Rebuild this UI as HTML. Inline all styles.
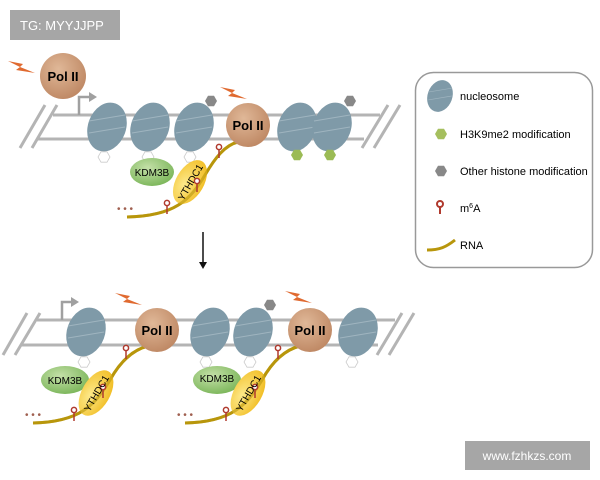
<!DOCTYPE html>
<html><head><meta charset="utf-8"><style>
html,body{margin:0;padding:0;background:#fff;width:600px;height:480px;overflow:hidden}
svg{display:block;font-family:"Liberation Sans",sans-serif}
</style></head><body>
<svg width="600" height="480" viewBox="0 0 600 480" xmlns="http://www.w3.org/2000/svg">
<defs>
<radialGradient id="pol" cx="40%" cy="35%" r="65%"><stop offset="0" stop-color="#e0b898"/><stop offset="1" stop-color="#c08a66"/></radialGradient>
<radialGradient id="kdm" cx="40%" cy="35%" r="65%"><stop offset="0" stop-color="#c4e0a8"/><stop offset="1" stop-color="#7fb85e"/></radialGradient>
<radialGradient id="yth" cx="40%" cy="35%" r="65%"><stop offset="0" stop-color="#fde98a"/><stop offset="1" stop-color="#f2c02a"/></radialGradient>
<g id="nuc"><ellipse rx="19" ry="25" fill="#7f9aa8" transform="rotate(20)"/><path d="M-18,-6 L18,-12 M-18,6 L18,0" stroke="#9fb4bf" stroke-width="1"/></g>
<polygon id="hex" points="6,0 3,5.2 -3,5.2 -6,0 -3,-5.2 3,-5.2"/>
<g id="m6a"><line x1="0" y1="0" x2="0" y2="-9" stroke="#b03a2e" stroke-width="1.5"/><circle cy="-11" r="2.6" fill="#fff" stroke="#b03a2e" stroke-width="1.5"/></g>
<path id="bolt" d="M0,0 L15,3 L12,6 L27,12 L8,9 L12,6 Z" fill="#e06a30"/>
</defs>

<rect x="10" y="10" width="110" height="30" fill="#a6a6a6"/>
<text x="20" y="30" font-size="13" fill="#fff">TG: MYYJJPP</text>

<g stroke="#b4b4b4" stroke-width="3" fill="none">
<line x1="53" y1="115" x2="380" y2="115"/><line x1="37" y1="139" x2="364" y2="139"/>
<line x1="20" y1="148" x2="45" y2="105"/><line x1="32" y1="148" x2="57" y2="105"/>
<line x1="362" y1="148" x2="388" y2="105"/><line x1="374" y1="148" x2="400" y2="105"/>
</g>
<path d="M79,115 V97 H90" stroke="#a0a0a0" stroke-width="2.5" fill="none"/><polygon points="89,92 97,97 89,102" fill="#a0a0a0"/>
<use href="#bolt" x="8" y="61"/>
<circle cx="63" cy="76" r="23" fill="url(#pol)"/><text x="63" y="81" font-size="13" font-weight="bold" text-anchor="middle">Pol II</text>
<use href="#nuc" x="107" y="127"/><use href="#nuc" x="150" y="127"/><use href="#nuc" x="194" y="127"/>
<use href="#nuc" x="297" y="127"/><use href="#nuc" x="332" y="127"/>
<use href="#hex" x="211" y="101" fill="#888"/><use href="#hex" x="350" y="101" fill="#888"/>
<use href="#hex" x="297" y="155" fill="#9bbb55"/><use href="#hex" x="330" y="155" fill="#9bbb55"/>
<g fill="none" stroke="#ccc" stroke-width="0.8"><use href="#hex" x="104" y="157"/><use href="#hex" x="148" y="157"/><use href="#hex" x="190" y="157"/></g>
<use href="#bolt" x="220" y="87"/>
<path d="M127,217 C175,216 190,200 205,175 C215,158 225,145 238,142" stroke="#b8960c" stroke-width="3" fill="none"/>
<ellipse cx="152" cy="172" rx="22" ry="14" fill="url(#kdm)"/><text x="152" y="176" font-size="10" text-anchor="middle">KDM3B</text>
<ellipse cx="190" cy="182" rx="24" ry="14" fill="url(#yth)" transform="rotate(-60 190 182)"/><text x="190" y="186" font-size="10" text-anchor="middle" transform="rotate(-60 190 182)">YTHDC1</text>
<path d="M127,217 C175,216 190,200 205,175 C215,158 225,145 238,142" stroke="#b8960c" stroke-width="3" fill="none" opacity="0.6"/>
<use href="#m6a" x="167" y="214"/><use href="#m6a" x="197" y="192"/><use href="#m6a" x="219" y="158"/>
<text x="117" y="212" font-size="10" fill="#a06050">• • •</text>
<circle cx="248" cy="125" r="22" fill="url(#pol)"/><text x="248" y="130" font-size="13" font-weight="bold" text-anchor="middle">Pol II</text>

<line x1="203" y1="232" x2="203" y2="264" stroke="#111" stroke-width="1.5"/><polygon points="199,262 203,269 207,262" fill="#111"/>

<rect x="415.5" y="72.5" width="177" height="195" rx="18" fill="#fff" stroke="#999" stroke-width="1.5"/>
<g transform="translate(440,96) scale(0.65)"><use href="#nuc"/></g>
<text x="460" y="100" font-size="11">nucleosome</text>
<use href="#hex" x="441" y="134" fill="#a5bf5e"/><text x="460" y="138" font-size="11">H3K9me2 modification</text>
<use href="#hex" x="441" y="171" fill="#888"/><text x="460" y="175" font-size="11">Other histone modification</text>
<g transform="translate(440,214)"><line y1="0" y2="-8" stroke="#b03a2e" stroke-width="2"/><circle cy="-10" r="3" fill="#fff" stroke="#b03a2e" stroke-width="2"/></g>
<text x="460" y="212" font-size="11">m<tspan font-size="7" dy="-4">6</tspan><tspan dy="4">A</tspan></text>
<path d="M427,250 C440,250 446,247 455,240" stroke="#b8960c" stroke-width="3" fill="none"/><text x="460" y="249" font-size="11">RNA</text>

<g stroke="#b4b4b4" stroke-width="3" fill="none">
<line x1="37" y1="320" x2="395" y2="320"/><line x1="20" y1="345" x2="378" y2="345"/>
<line x1="3" y1="355" x2="27" y2="313"/><line x1="15" y1="355" x2="40" y2="313"/>
<line x1="377" y1="355" x2="402" y2="313"/><line x1="389" y1="355" x2="414" y2="313"/>
</g>
<path d="M62,320 V302 H72" stroke="#a0a0a0" stroke-width="2.5" fill="none"/><polygon points="71,297 79,302 71,307" fill="#a0a0a0"/>
<use href="#nuc" x="86" y="332"/><use href="#nuc" x="210" y="332"/><use href="#nuc" x="253" y="332"/><use href="#nuc" x="358" y="332"/>
<use href="#hex" x="270" y="305" fill="#888"/>
<g fill="none" stroke="#ccc" stroke-width="0.8"><use href="#hex" x="84" y="362"/><use href="#hex" x="206" y="362"/><use href="#hex" x="250" y="362"/><use href="#hex" x="352" y="362"/></g>
<use href="#bolt" x="115" y="293"/><use href="#bolt" x="285" y="291"/>
<g id="tx">
<path d="M33,423 C80,422 95,405 110,380 C120,362 132,350 148,346" stroke="#b8960c" stroke-width="3" fill="none"/>
<ellipse cx="65" cy="380" rx="24" ry="14" fill="url(#kdm)"/>
<ellipse cx="96" cy="393" rx="25" ry="14" fill="url(#yth)" transform="rotate(-60 96 393)"/>
<path d="M33,423 C80,422 95,405 110,380 C120,362 132,350 148,346" stroke="#b8960c" stroke-width="3" fill="none" opacity="0.6"/>
<use href="#m6a" x="74" y="421"/><use href="#m6a" x="103" y="398"/><use href="#m6a" x="126" y="359"/>
<text x="25" y="418" font-size="10" fill="#a06050">• • •</text>
</g>
<text x="65" y="384" font-size="10" text-anchor="middle">KDM3B</text>
<text x="96" y="397" font-size="10" text-anchor="middle" transform="rotate(-60 96 393)">YTHDC1</text>
<use href="#tx" x="152" y="0"/>
<text x="217" y="382" font-size="10" text-anchor="middle">KDM3B</text>
<text x="248" y="397" font-size="10" text-anchor="middle" transform="rotate(-60 248 393)">YTHDC1</text>
<circle cx="157" cy="330" r="22" fill="url(#pol)"/><text x="157" y="335" font-size="13" font-weight="bold" text-anchor="middle">Pol II</text>
<circle cx="310" cy="330" r="22" fill="url(#pol)"/><text x="310" y="335" font-size="13" font-weight="bold" text-anchor="middle">Pol II</text>

<rect x="465" y="441" width="125" height="29" fill="#a6a6a6"/>
<text x="527" y="460" font-size="12" fill="#fff" text-anchor="middle">www.fzhkzs.com</text>
</svg>
</body></html>
